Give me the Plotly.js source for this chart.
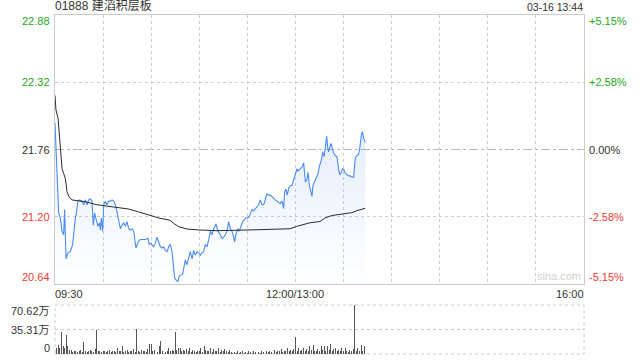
<!DOCTYPE html>
<html>
<head>
<meta charset="utf-8">
<script src="https://cdn.plot.ly/plotly-3.0.1.min.js"></script>
<style>html,body{margin:0;padding:0;background:#fff;}#chart{width:640px;height:360px;}</style>
</head>
<body>
<div id="chart"></div>
<script>
// ---- data (minutes since 09:30 on a continuous trading-time axis, lunch removed) ----
const stockTitle = '01888 建滔积层板';
const stampText = '03-16 13:44';
const prevClose = 21.76;
const priceTicks = [20.64, 21.20, 21.76, 22.32, 22.88];
const priceTickText = ['20.64', '21.20', '21.76', '22.32', '22.88'];
const pctTickText = ['-5.15%', '-2.58%', '0.00%', '+2.58%', '+5.15%'];
const timeTickVals = [0, 150, 330];
const timeTickText = ['09:30', '12:00/13:00', '16:00'];
const volTicks = [0, 35.31, 70.62];
const volTickText = ['0', '35.31万', '70.62万'];

const priceMin = [0.0,2.3,3.3,4.4,5.4,6.0,6.9,8.1,9.6,11.0,12.7,13.1,14.3,15.2,16.8,17.9,18.9,20.0,21.0,22.0,
 23.1,23.9,24.7,25.8,26.8,27.7,28.3,28.9,29.7,30.4,31.4,32.4,33.5,34.5,35.6,36.6,37.6,38.7,39.7,40.8,
 41.8,42.8,43.9,44.9,46.0,47.0,48.0,49.1,50.5,51.8,53.2,54.7,56.3,58.0,58.8,59.9,61.5,62.6,63.6,64.7,
 65.7,66.7,67.8,68.8,69.9,70.9,71.9,73.0,73.8,74.6,75.7,76.7,77.6,78.8,79.6,80.7,81.3,82.3,83.4,84.4,
 85.5,86.5,87.5,88.6,89.6,90.7,91.7,92.7,93.8,94.8,95.9,96.9,97.9,99.0,100.4,101.7,103.1,104.2,105.2,106.3,
 107.3,108.3,109.4,110.4,111.5,112.1,112.9,114.2,115.0,116.2,117.1,117.9,118.7,119.8,121.2,122.0,122.9,123.9,125.0,126.0,
 127.0,128.1,129.1,130.2,131.2,132.2,133.3,134.3,135.3,136.4,137.4,138.5,139.5,140.5,141.6,142.6,143.3,144.1,144.9,145.8,
 147.0,147.9,148.9,149.9,151.0,151.6,152.4,153.5,154.5,155.1,156.2,157.2,157.8,158.7,159.5,160.3,160.9,162.0,163.0,164.1,
 164.9,165.7,166.1,167.0,167.8,168.6,169.5,170.1,170.7,171.4,172.2,172.8,173.8,174.9,175.9,177.0,177.6,178.6,179.4,180.3,
 181.1,182.2,183.2,184.2,185.3,186.3,186.9,187.3,188.4,189.4,190.1,190.5,191.1,191.7,192.6,193.6];
const priceVal = [21.98,21.23,21.19,21.08,21.05,21.26,20.85,20.90,20.91,20.97,21.19,21.21,21.33,21.34,21.33,21.30,21.34,21.30,21.34,21.35,
 21.33,21.13,21.23,21.16,21.12,21.15,21.09,21.19,21.08,21.30,21.33,21.30,21.33,21.33,21.34,21.33,21.30,21.24,21.16,21.10,
 21.13,21.15,21.12,21.16,21.10,21.09,21.10,21.08,20.94,20.99,21.01,21.01,21.01,21.02,20.97,20.98,20.95,20.98,21.03,20.99,
 20.95,20.94,20.95,20.92,20.91,20.95,20.97,20.91,20.80,20.69,20.67,20.66,20.71,20.72,20.72,20.80,20.84,20.80,20.85,20.91,
 20.85,20.92,20.88,20.91,20.90,20.88,20.90,20.91,20.97,20.95,21.01,21.08,21.05,21.10,21.14,21.08,21.05,21.02,21.03,21.05,
 21.08,21.16,21.10,21.08,21.03,20.99,21.06,21.10,21.08,21.13,21.16,21.17,21.19,21.19,21.20,21.23,21.26,21.25,21.27,21.28,
 21.30,21.34,21.30,21.30,21.35,21.39,21.38,21.38,21.37,21.35,21.34,21.33,21.32,21.31,21.33,21.27,21.41,21.43,21.38,21.44,
 21.46,21.46,21.51,21.55,21.60,21.58,21.59,21.60,21.62,21.65,21.49,21.51,21.57,21.46,21.41,21.37,21.46,21.50,21.52,21.56,
 21.62,21.66,21.67,21.74,21.70,21.77,21.87,21.78,21.74,21.78,21.81,21.78,21.73,21.71,21.70,21.59,21.55,21.57,21.60,21.59,
 21.56,21.55,21.54,21.54,21.53,21.53,21.60,21.69,21.71,21.72,21.77,21.85,21.88,21.91,21.85,21.82];

const avgMin = [0,0.6,1.9,3.3,4.4,5.4,6.4,7.5,8.5,10.6,18.9,26.2,33.5,39.7,46.0,52.2,58.5,64.7,71.9,74.0,
 77.2,82.3,89.6,101.1,121.6,136.2,146.6,150.8,159.1,165.3,168.4,172.6,177.8,185.1,188.2,193.4];
const avgVal = [22.21,22.09,22.02,21.81,21.60,21.56,21.52,21.41,21.37,21.34,21.325,21.30,21.285,21.275,21.264,21.24,21.214,21.19,21.17,21.145,
 21.117,21.098,21.09,21.084,21.09,21.095,21.10,21.12,21.15,21.16,21.19,21.21,21.22,21.234,21.25,21.27];

// volume in 万 shares, one bar per minute from 09:30
const volVal = [30,8,13,9,32,11,8,27,11,6, 6,3,4,5,3,4,6,3,18,4, 3,5,6,4,3,7,34,5,4,3,
 5,4,3,4,6,3,5,4,3,8, 4,5,11,3,4,6,3,5,4,7, 3,36,4,3,6,5,4,3,7,14,
 15,4,6,5,3,12,19,4,6,3, 5,8,4,6,5,32,6,9,8,5, 6,4,7,5,8,3,6,4,3,5,
 4,9,3,12,6,5,4,8,3,7, 5,4,8,3,6,5,7,4,3,6, 3,2,3,2,4,2,3,5,2,3,
 2,4,3,2,5,3,2,3,2,4, 3,2,4,3,5,3,4,6,3,5, 4,7,3,5,4,8,5,6,4,7,
 25,5,8,4,6,9,5,7,4,12, 6,13,5,4,7,5,11,6,12,5, 12,6,15,5,7,9,4,6,5,8,
 4,9,5,3,6,4,7,70.62,5,8, 4,13,5,11];
const volMin = volVal.map((v, i) => i);

// ---- styling ----
const GREEN = '#1fa61f', RED = '#f23a3a', DARK = '#333333';
const tickColors = [RED, RED, DARK, GREEN, GREEN];
const FONT = 'Arial, "Liberation Sans", "Noto Sans CJK SC", sans-serif';
const mainBottom = 70 / 339;   // paper fraction of main plot bottom
const volTop = 49 / 339;

const traces = [
  {
    x: priceMin, y: priceVal, type: 'scatter', mode: 'lines', xaxis: 'x', yaxis: 'y',
    line: {color: '#4a8bf0', width: 1.1},
    fill: 'tozeroy',
    fillgradient: {type: 'vertical', start: priceTicks[0], stop: Math.max(...priceVal),
      colorscale: [[0, 'rgba(74,139,240,0.0)'], [1, 'rgba(74,139,240,0.15)']]},
    hoverinfo: 'skip'
  },
  {
    x: avgMin, y: avgVal, type: 'scatter', mode: 'lines', xaxis: 'x', yaxis: 'y',
    line: {color: '#2b2b2b', width: 1}, hoverinfo: 'skip'
  },
  {
    x: volMin, y: volVal, type: 'bar', xaxis: 'x2', yaxis: 'y2',
    marker: {color: '#555555', line: {width: 0}}, width: 0.6, hoverinfo: 'skip'
  }
];

const annotations = [];
annotations.push({xref: 'paper', yref: 'paper', x: 0, y: 1, xanchor: 'left', yanchor: 'bottom',
  xshift: -2, yshift: 0, text: stockTitle, showarrow: false, font: {family: FONT, size: 12, color: DARK}});
annotations.push({xref: 'paper', yref: 'paper', x: 1, y: 1, xanchor: 'right', yanchor: 'bottom',
  xshift: 1, yshift: 0, text: stampText, showarrow: false, font: {family: FONT, size: 10.5, color: DARK}});
priceTicks.forEach((p, i) => {
  const ys = i === 0 ? 7 : (i === priceTicks.length - 1 ? -6 : 0);
  annotations.push({xref: 'paper', yref: 'y', x: 0, y: p, xanchor: 'right', yanchor: 'middle', xshift: -3, yshift: ys,
    text: priceTickText[i], showarrow: false, font: {family: FONT, size: 11, color: tickColors[i]}});
  annotations.push({xref: 'paper', yref: 'y', x: 1, y: p, xanchor: 'left', yanchor: 'middle', xshift: 3, yshift: ys,
    text: pctTickText[i], showarrow: false, font: {family: FONT, size: 11, color: tickColors[i]}});
});
timeTickVals.forEach((t, i) => {
  annotations.push({xref: 'x', yref: 'paper', x: t, y: mainBottom, yanchor: 'top', yshift: -2,
    xanchor: i === 0 ? 'left' : (i === timeTickVals.length - 1 ? 'right' : 'center'),
    xshift: i === 0 ? -2 : (i === timeTickVals.length - 1 ? 2 : 0),
    text: timeTickText[i], showarrow: false, font: {family: FONT, size: 11, color: DARK}});
});
volTicks.forEach((v, i) => {
  const ys = i === 0 ? 6 : (i === volTicks.length - 1 ? -6 : 0);
  annotations.push({xref: 'paper', yref: 'y2', x: 0, y: v, xanchor: 'right', yanchor: 'middle', xshift: -3, yshift: ys,
    text: volTickText[i], showarrow: false, font: {family: FONT, size: 11, color: DARK}});
});
annotations.push({xref: 'paper', yref: 'paper', x: 1, y: mainBottom, xanchor: 'right', yanchor: 'bottom',
  xshift: -1, yshift: 0, text: 'sina.com', showarrow: false, font: {family: FONT, size: 11, color: '#d2d2d2'}});

const layout = {
  width: 640, height: 360,
  margin: {l: 55, r: 56, t: 15, b: 6, pad: 0},
  paper_bgcolor: '#ffffff', plot_bgcolor: '#ffffff',
  showlegend: false,
  font: {family: FONT, size: 11, color: DARK},
  xaxis: {domain: [0, 1], range: [0, 330], tick0: 0, dtick: 30, showgrid: true, gridcolor: '#cfcfcf', griddash: 'dot',
    gridwidth: 1, showticklabels: false, ticks: '', zeroline: false, showline: true, mirror: true,
    linecolor: '#cccccc', linewidth: 1, anchor: 'y', fixedrange: true},
  yaxis: {domain: [mainBottom, 1], range: [priceTicks[0], priceTicks[priceTicks.length - 1]],
    tickvals: [priceTicks[1], priceTicks[3]], showgrid: true, gridcolor: '#cfcfcf', griddash: 'dot',
    showticklabels: false, ticks: '', zeroline: false, showline: true, mirror: true,
    linecolor: '#cccccc', linewidth: 1, anchor: 'x', fixedrange: true},
  xaxis2: {domain: [0, 1], range: [0, 330], showgrid: false, showticklabels: false, ticks: '', zeroline: false,
    showline: false, anchor: 'y2', fixedrange: true},
  yaxis2: {domain: [0, volTop], range: [0, volTicks[2]], tickvals: [volTicks[1]], showgrid: true,
    gridcolor: '#c8c8c8', griddash: 'dot', showticklabels: false, ticks: '', zeroline: false,
    showline: false, anchor: 'x2', fixedrange: true},
  bargap: 0,
  shapes: [
    {type: 'line', xref: 'x domain', yref: 'y', x0: 0, x1: 1, y0: prevClose, y1: prevClose,
      line: {color: '#b8b8b8', width: 1, dash: 'dashdot'}, layer: 'below'},
    {type: 'rect', xref: 'x2 domain', yref: 'y2 domain', x0: 0, x1: 1, y0: 0, y1: 1,
      line: {color: '#cccccc', width: 1, dash: 'dot'}, layer: 'below'}
  ],
  annotations: annotations
};

Plotly.newPlot('chart', traces, layout, {staticPlot: true, displayModeBar: false});
</script>
</body>
</html>
